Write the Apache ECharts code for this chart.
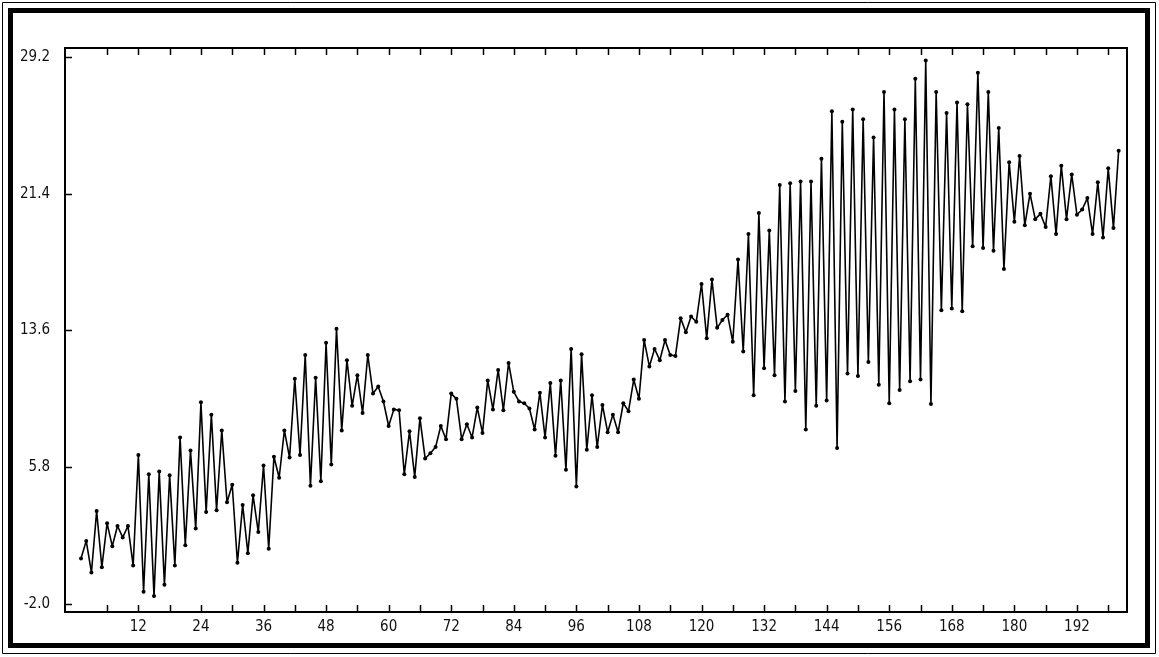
<!DOCTYPE html>
<html>
<head>
<meta charset="utf-8">
<style>
  html, body { margin: 0; padding: 0; background: #fff; }
  #chart { width: 1159px; height: 657px; }
</style>
<script src="https://cdn.jsdelivr.net/npm/echarts@6/dist/echarts.min.js"></script>
</head>
<body>
<div id="chart"></div>
<script>
// Observation index (1..200) and the measured value at each one
const xIndex = Array.from({ length: 200 }, (_, k) => k + 1);
const values = [
  0.6, 1.6, -0.2, 3.3, 0.1, 2.6, 1.3, 2.45, 1.8, 2.45,
  0.2, 6.5, -1.3, 5.4, -1.55, 5.55, -0.9, 5.35, 0.2, 7.5,
  1.35, 6.75, 2.3, 9.5, 3.25, 8.8, 3.35, 7.9, 3.8, 4.8,
  0.35, 3.65, 0.9, 4.2, 2.1, 5.9, 1.15, 6.4, 5.2, 7.9,
  6.35, 10.85, 6.5, 12.2, 4.75, 10.9, 5.0, 12.9, 5.95, 13.7,
  7.9, 11.9, 9.3, 11.05, 8.9, 12.2, 10.0, 10.4, 9.55, 8.15,
  9.1, 9.05, 5.4, 7.85, 5.25, 8.6, 6.3, 6.6, 6.95, 8.15,
  7.4, 10.0, 9.7, 7.4, 8.25, 7.5, 9.2, 7.75, 10.75, 9.1,
  11.35, 9.05, 11.75, 10.1, 9.55, 9.45, 9.15, 7.95, 10.05, 7.5,
  10.6, 6.45, 10.75, 5.65, 12.55, 4.7, 12.25, 6.8, 9.9, 6.95,
  9.35, 7.8, 8.8, 7.8, 9.45, 9.0, 10.8, 9.7, 13.05, 11.55,
  12.55, 11.9, 13.05, 12.2, 12.15, 14.3, 13.5, 14.4, 14.1, 16.25,
  13.15, 16.5, 13.75, 14.2, 14.5, 12.95, 17.65, 12.4, 19.1, 9.9,
  20.3, 11.45, 19.3, 11.05, 21.9, 9.55, 22.0, 10.15, 22.1, 7.95,
  22.1, 9.3, 23.4, 9.6, 26.1, 6.9, 25.5, 11.15, 26.2, 11.0,
  25.65, 11.8, 24.6, 10.5, 27.2, 9.45, 26.2, 10.2, 25.65, 10.7,
  27.95, 10.8, 29.0, 9.4, 27.2, 14.75, 26.0, 14.85, 26.6, 14.7,
  26.5, 18.4, 28.3, 18.3, 27.2, 18.15, 25.15, 17.1, 23.2, 19.8,
  23.55, 19.6, 21.4, 19.95, 20.25, 19.5, 22.4, 19.1, 23.0, 19.95,
  22.5, 20.2, 20.5, 21.15, 19.1, 22.05, 18.9, 22.85, 19.45, 23.85
];
// Tick positions and labels
const xTickValues = [6, 12, 18, 24, 30, 36, 42, 48, 54, 60, 66, 72, 78, 84, 90, 96,
  102, 108, 114, 120, 126, 132, 138, 144, 150, 156, 162, 168, 174, 180, 186, 192, 198];
const xLabelValues = [12, 24, 36, 48, 60, 72, 84, 96, 108, 120, 132, 144, 156, 168, 180, 192];
const yTickValues = [-2.0, 5.8, 13.6, 21.4, 29.2];

const points = xIndex.map((x, k) => [x, values[k]]);

const labelFont = {
  fontFamily: "'Liberation Sans Narrow', 'DejaVu Sans Condensed', sans-serif",
  fontSize: 15,
  color: '#111'
};

const X_MIN = -2.07, X_MAX = 201.6, Y_MIN = -2.456, Y_MAX = 29.71;
const axisLineStyle = { show: true, onZero: false, lineStyle: { color: '#000', width: 2 } };

// Tick anchors on the plot edges: [x, y, edge] with edge 0 = bottom, 1 = top, 2 = left
const tickAnchors = []
  .concat(xTickValues.map(v => [v, Y_MIN, 0]))
  .concat(xTickValues.map(v => [v, Y_MAX, 1]))
  .concat(yTickValues.map(v => [X_MIN, v, 2]));

const TICK_LEN = 7;
function renderTick(params, api) {
  const p = api.coord([api.value(0), api.value(1)]);
  const edge = api.value(2);
  const x = Math.round(p[0]) + 0.5;
  const y = Math.round(p[1]) + 0.5;
  let shape;
  if (edge === 0) shape = { x1: x, y1: p[1], x2: x, y2: p[1] - TICK_LEN };
  else if (edge === 1) shape = { x1: x, y1: p[1], x2: x, y2: p[1] + TICK_LEN };
  else shape = { x1: p[0], y1: y, x2: p[0] + TICK_LEN, y2: y };
  return { type: 'line', shape, style: { stroke: '#000', lineWidth: 1.5 } };
}

const chart = echarts.init(document.getElementById('chart'), null, { renderer: 'canvas' });

chart.setOption({
  animation: false,
  backgroundColor: '#fff',
  graphic: [
    // double frame around the whole figure
    { type: 'rect', shape: { x: 2.5, y: 2.5, width: 1153, height: 651 },
      style: { fill: 'none', stroke: '#000', lineWidth: 1 }, silent: true },
    { type: 'rect', shape: { x: 10.5, y: 10.5, width: 1137, height: 635 },
      style: { fill: 'none', stroke: '#000', lineWidth: 5 }, silent: true }
  ],
  grid: { left: 65, top: 48, right: 32, bottom: 45 },
  xAxis: [
    {
      type: 'value', position: 'bottom', min: X_MIN, max: X_MAX,
      axisLine: axisLineStyle,
      splitLine: { show: false },
      axisTick: { show: false },
      axisLabel: Object.assign({ customValues: xLabelValues, margin: 8 }, labelFont)
    },
    {
      type: 'value', position: 'top', min: X_MIN, max: X_MAX,
      axisLine: axisLineStyle,
      splitLine: { show: false },
      axisTick: { show: false },
      axisLabel: { show: false }
    }
  ],
  yAxis: [
    {
      type: 'value', position: 'left', min: Y_MIN, max: Y_MAX,
      axisLine: axisLineStyle,
      splitLine: { show: false },
      axisTick: { show: false },
      axisLabel: Object.assign({ customValues: yTickValues, margin: 15,
        formatter: v => v.toFixed(1) }, labelFont)
    },
    {
      type: 'value', position: 'right', min: Y_MIN, max: Y_MAX,
      axisLine: axisLineStyle,
      splitLine: { show: false },
      axisTick: { show: false },
      axisLabel: { show: false }
    }
  ],
  series: [
    {
      type: 'line',
      data: points,
      xAxisIndex: 0,
      yAxisIndex: 0,
      showAllSymbol: true,
      symbol: 'circle',
      symbolSize: 4,
      itemStyle: { color: '#000' },
      lineStyle: { color: '#000', width: 1.6 }
    },
    {
      type: 'custom',
      xAxisIndex: 0,
      yAxisIndex: 0,
      clip: false,
      silent: true,
      z: 5,
      data: tickAnchors,
      renderItem: renderTick
    }
  ]
});
</script>
</body>
</html>
